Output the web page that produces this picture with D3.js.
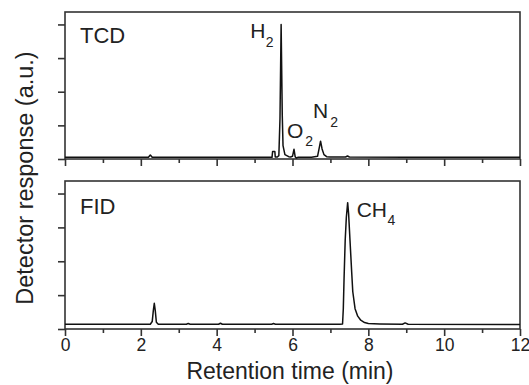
<!DOCTYPE html>
<html>
<head>
<meta charset="utf-8">
<script src="https://cdn.jsdelivr.net/npm/d3@7"></script>
<style>
  html, body { margin: 0; padding: 0; background: #ffffff; }
  svg { display: block; font-family: "Liberation Sans", Arial, sans-serif; }
</style>
</head>
<body>
<svg id="chart" width="529" height="385"></svg>
<script>
// ---- data ----
const xTicksMajor = [0, 2, 4, 6, 8, 10, 12];
const xTicksMinor = [1, 3, 5, 7, 9, 11];
const yTicks = [0, 1, 2, 3, 4];
const xLabel = "Retention time (min)";
const yLabel = "Detector response (a.u.)";

// TCD trace: [time (min), response]
const tcdTime = [0, 1.0, 2.2, 2.25, 2.3, 4.0, 5.2, 5.46, 5.475, 5.535, 5.545, 5.6, 5.64, 5.67, 5.70, 5.73, 5.75, 5.8, 5.9, 5.95, 6.0, 6.04, 6.07, 6.1, 6.14, 6.5, 6.66, 6.7, 6.74, 6.78, 6.83, 6.9, 7.0, 7.4, 7.45, 7.5, 9.0, 12];
const tcdResp = [0.05, 0.05, 0.05, 0.12, 0.05, 0.05, 0.05, 0.05, 0.22, 0.22, 0.06, 0.06, 0.1, 1.2, 4.0, 1.3, 0.4, 0.13, 0.07, 0.06, 0.08, 0.29, 0.07, 0.03, 0.05, 0.05, 0.08, 0.3, 0.53, 0.3, 0.13, 0.07, 0.06, 0.06, 0.09, 0.06, 0.05, 0.05];

// FID trace
const fidTime = [0, 1.0, 2.25, 2.3, 2.33, 2.355, 2.38, 2.41, 2.46, 3.2, 3.25, 3.3, 4.05, 4.1, 4.15, 5.45, 5.5, 5.55, 7.25, 7.32, 7.34, 7.36, 7.39, 7.42, 7.455, 7.48, 7.516, 7.56, 7.59, 7.65, 7.72, 7.8, 7.9, 8.0, 8.3, 8.9, 8.97, 9.05, 12];
const fidResp = [0.14, 0.14, 0.14, 0.22, 0.55, 0.76, 0.55, 0.2, 0.14, 0.14, 0.16, 0.14, 0.14, 0.17, 0.14, 0.14, 0.16, 0.14, 0.14, 0.15, 0.6, 1.5, 2.63, 3.3, 3.73, 3.4, 2.63, 1.7, 1.1, 0.6, 0.38, 0.26, 0.19, 0.16, 0.15, 0.14, 0.18, 0.14, 0.13];

const panelNames = ["TCD", "FID"];
const tcdPeaks = [
  { name: "H", sub: "2", t: 5.70 },
  { name: "O", sub: "2", t: 6.04 },
  { name: "N", sub: "2", t: 6.74 }
];
const fidPeaks = [ { name: "CH", sub: "4", t: 7.455 } ];

// ---- layout ----
const svg = d3.select("#chart");
const left = 65, right = 520;
const panels = [
  { top: 12, bottom: 159, time: tcdTime, resp: tcdResp, name: panelNames[0] },
  { top: 181, bottom: 329, time: fidTime, resp: fidResp, name: panelNames[1] }
];
const frameColor = "#333";
const textColor = "#222";

const x = d3.scaleLinear().domain([0, 12]).range([left, right]);

panels.forEach((p, i) => {
  const y = d3.scaleLinear().domain([0, 4.37]).range([p.bottom, p.top]);
  p.y = y;
  const g = svg.append("g");

  // frame
  g.append("rect")
    .attr("x", left).attr("y", p.top)
    .attr("width", right - left).attr("height", p.bottom - p.top)
    .attr("fill", "none").attr("stroke", frameColor).attr("stroke-width", 1.6);

  // x axis major
  const axM = d3.axisBottom(x).tickValues(xTicksMajor).tickSize(7).tickFormat(i === 1 ? d3.format("d") : () => "");
  const gx = g.append("g").attr("transform", `translate(0,${p.bottom})`).call(axM);
  gx.select(".domain").remove();
  gx.selectAll("line").attr("stroke", frameColor).attr("stroke-width", 1.6);
  gx.selectAll("text").attr("fill", textColor).attr("font-size", 17.5)
    .attr("font-family", "Liberation Sans, Arial, sans-serif").attr("y", 10).attr("dy", "0.71em");

  const axm = d3.axisBottom(x).tickValues(xTicksMinor).tickSize(4).tickFormat(() => "");
  const gxm = g.append("g").attr("transform", `translate(0,${p.bottom})`).call(axm);
  gxm.select(".domain").remove();
  gxm.selectAll("line").attr("stroke", frameColor).attr("stroke-width", 1.6);

  // y axis
  const ay = d3.axisLeft(y).tickValues(yTicks).tickSize(7).tickFormat(() => "");
  const gy = g.append("g").attr("transform", `translate(${left},0)`).call(ay);
  gy.select(".domain").remove();
  gy.selectAll("line").attr("stroke", frameColor).attr("stroke-width", 1.6);

  // trace
  const data = p.time.map((t, k) => [t, p.resp[k]]);
  g.append("path").datum(data)
    .attr("fill", "none").attr("stroke", "#111").attr("stroke-width", 1.5)
    .attr("stroke-linejoin", "round")
    .attr("d", d3.line().x(d => x(d[0])).y(d => y(d[1])));

  // panel label
  g.append("text").attr("x", 80).attr("y", i === 0 ? 42.5 : 214.3)
    .attr("font-size", 22).attr("fill", textColor).text(p.name);
});

// peak labels
function peakLabel(px, py, name, sub, dx, dy) {
  const t = svg.append("text").attr("x", px).attr("y", py)
    .attr("font-size", 21).attr("fill", textColor);
  t.append("tspan").text(name);
  t.append("tspan").attr("dx", dx).attr("dy", dy).attr("font-size", 14).text(sub);
}
peakLabel(x(tcdPeaks[0].t) - 31, 38, tcdPeaks[0].name, tcdPeaks[0].sub, 0.5, 9);
peakLabel(x(tcdPeaks[1].t) - 7, 138, tcdPeaks[1].name, tcdPeaks[1].sub, 2, 8);
peakLabel(x(tcdPeaks[2].t) - 7.5, 118, tcdPeaks[2].name, tcdPeaks[2].sub, 2, 9);
peakLabel(x(fidPeaks[0].t) + 9, 217, fidPeaks[0].name, fidPeaks[0].sub, 0.5, 8);

// axis titles
svg.append("text").attr("x", 290).attr("y", 378.5).attr("text-anchor", "middle")
  .attr("font-size", 23).attr("fill", textColor).text(xLabel);
svg.append("text").attr("transform", "translate(33,178) rotate(-90)")
  .attr("text-anchor", "middle").attr("font-size", 23.5).attr("fill", textColor).text(yLabel);
</script>
</body>
</html>
